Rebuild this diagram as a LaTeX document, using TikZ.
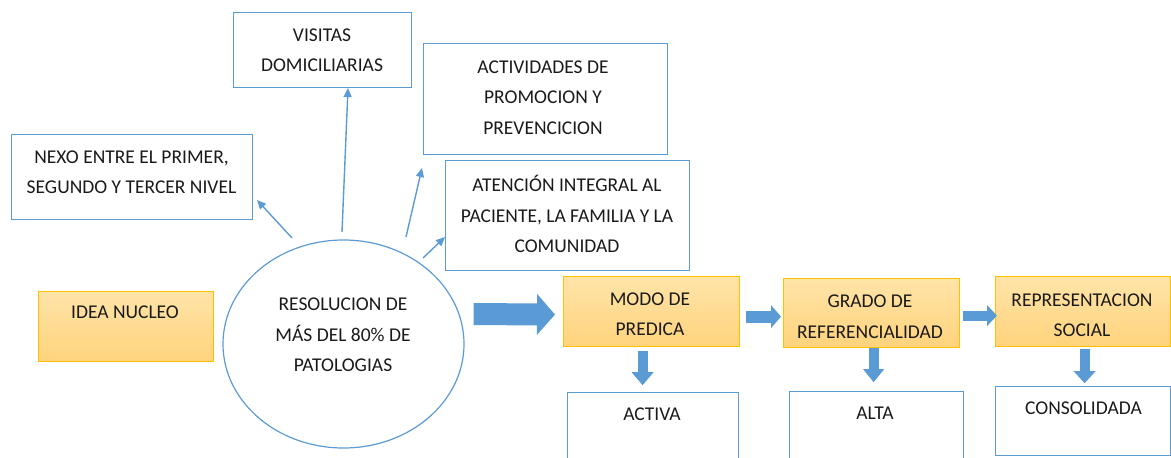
\documentclass[tikz,border=0pt]{standalone}
\usepackage{fontspec}
\setmainfont{Carlito}
\usetikzlibrary{arrows.meta,shapes.geometric,calc}
\definecolor{bline}{HTML}{5B9BD5}
\definecolor{bfill}{HTML}{5B9BD5}
\definecolor{gold}{HTML}{FFC000}
\definecolor{otop}{HTML}{FFE4A8}
\definecolor{obot}{HTML}{FFD37C}
\definecolor{txt}{HTML}{1A1A1A}
\begin{document}
\begin{tikzpicture}[x=1pt,y=-1pt,
  box/.style={draw=bline,line width=1.2pt,rectangle,inner sep=0pt,anchor=north west},
  obox/.style={draw=gold,line width=1.2pt,rectangle,inner sep=0pt,anchor=north west,top color=otop,bottom color=obot},
  lbl/.style={text=txt,align=center,inner sep=0pt,font=\fontsize{19.5}{30.5}\selectfont},
  conn/.style={draw=bline,line width=1.4pt,-{Triangle[length=9pt,width=8pt]}},
  blk/.style n args={3}{draw=bfill,line width=#1,-{Triangle[length=#3,width=#2,line width=0pt]}}
]
\useasboundingbox (0,0) rectangle (1171,458);
\clip (0,0) rectangle (1171,458);

% boxes
\node[box,minimum width=241pt,minimum height=85pt] (nexo) at (11,134) {};
\node[box,minimum width=178pt,minimum height=75pt] (visitas) at (233,12) {};
\node[box,minimum width=244pt,minimum height=111pt] (activ) at (423,43) {};
\node[box,minimum width=244pt,minimum height=110pt] (atenc) at (445,160) {};
\node[obox,minimum width=175pt,minimum height=70pt] (idea) at (38,291) {};
\node[draw=bline,line width=1.2pt,ellipse,inner sep=0pt,minimum width=241pt,minimum height=208pt] (ell) at (343.5,344) {};
\node[obox,minimum width=176pt,minimum height=70pt] (modo) at (563,276) {};
\node[obox,minimum width=176pt,minimum height=69pt] (grado) at (783,278) {};
\node[obox,minimum width=175pt,minimum height=70pt] (repr) at (995,276) {};
\node[box,minimum width=171pt,minimum height=90pt] (activa) at (567,392) {};
\node[box,minimum width=174pt,minimum height=90pt] (alta) at (789,391) {};
\node[box,minimum width=175pt,minimum height=69pt] (conso) at (995,386) {};

% texts
\node[lbl] (nexo-t) at (131.5,172) {NEXO ENTRE EL PRIMER,\\SEGUNDO Y TERCER NIVEL};
\node[lbl] (visitas-t) at (322,50) {VISITAS\\DOMICILIARIAS};
\node[lbl] (activ-t) at (543,97.5) {ACTIVIDADES DE\\PROMOCION Y\\PREVENCICION};
\node[lbl] (atenc-t) at (567,214) {ATENCIÓN INTEGRAL AL\\PACIENTE, LA FAMILIA Y LA\\COMUNIDAD};
\node[lbl] (idea-t) at (125,312) {IDEA NUCLEO};
\node[lbl] (ell-t) at (343,335) {RESOLUCION DE\\MÁS DEL 80\% DE\\PATOLOGIAS};
\node[lbl] (modo-t) at (650,314) {MODO DE\\PREDICA};
\node[lbl] (grado-t) at (870,316.5) {GRADO DE\\REFERENCIALIDAD};
\node[lbl] (repr-t) at (1082,315) {REPRESENTACION\\SOCIAL};
\node[lbl] (activa-t) at (652,414) {ACTIVA};
\node[lbl] (alta-t) at (875,413) {ALTA};
\node[lbl] (conso-t) at (1083.5,408) {CONSOLIDADA};

% thin connectors
\coordinate (s1) at (292,238);
\coordinate (e1) at (257,200);
\coordinate (s2) at (342,232);
\coordinate (e2) at (348,88);
\coordinate (s3) at (406,237);
\coordinate (e3) at (422,168);
\coordinate (s4) at (423,258);
\coordinate (e4) at (445,237);
\draw[conn] (s1) -- (e1);
\draw[conn] (s2) -- (e2);
\draw[conn] (s3) -- (e3);
\draw[conn] (s4) -- (e4);

% block arrows
\draw[blk={22pt}{41pt}{18pt}] ($(ell.east)+(9,-30)$) -- ($(modo.west)+(-8,3)$);
\draw[blk={12pt}{23pt}{10pt}] ($(modo.east)+(6,5)$) -- ($(grado.west)+(-2,3.5)$);
\draw[blk={10pt}{21pt}{10pt}] ($(grado.east)+(3,2.5)$) -- ($(repr.west)+(2,4)$);
\draw[blk={10pt}{22pt}{13pt}] ($(modo.south)+(-9,4)$) -- ($(modo.south)+(-9,38)$);
\draw[blk={10pt}{21pt}{13pt}] ($(grado.south)+(2,0)$) -- ($(grado.south)+(2,34)$);
\draw[blk={10pt}{22pt}{12pt}] ($(repr.south)+(1.5,2)$) -- ($(repr.south)+(1.5,36)$);
\end{tikzpicture}
\end{document}
